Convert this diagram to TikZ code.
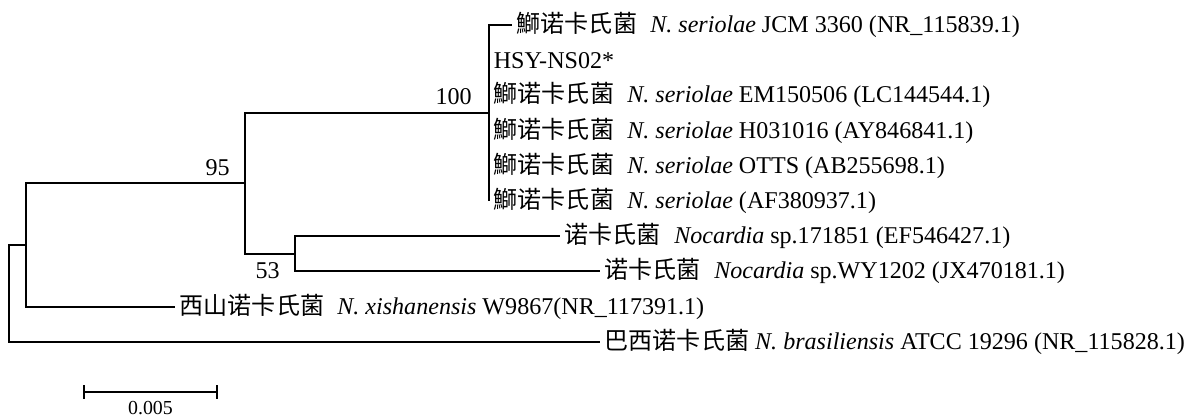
\documentclass[tikz,border=0pt]{standalone}
\usepackage{fontspec}
\setmainfont{Liberation Serif}
\newfontfamily\cjk{Noto Sans CJK SC}
\usetikzlibrary{calc,arrows.meta}
\newcommand\cn[1]{{\cjk #1}}
\newcommand\gapsp{\hspace{0.55em}}

\begin{document}
\begin{tikzpicture}[x=0.02cm,y=-0.02cm,
    branch/.style={line width=1.1pt},
    taxon/.style={anchor=west,inner sep=2.5pt},
    boot/.style={anchor=east,inner sep=0pt},
    font=\fontsize{13.7}{16}\selectfont]
  \useasboundingbox (0,0) rectangle (1190,417);
  % inner nodes
  \coordinate (root) at (9,293.4);
  \coordinate (nA) at (26,245);
  \coordinate (n95) at (245,183.4);
  \coordinate (n100) at (489,113);
  \coordinate (n53) at (295,253.8);
  % taxa
  \node[taxon] (jcm) at (512,25) {\cn{鰤诺卡氏菌}\gapsp\textit{N. seriolae} JCM 3360 (NR\_115839.1)};
  \node[taxon] (hsy) at (489,60.2) {HSY-NS02*};
  \node[taxon] (em) at (489,95.4) {\cn{鰤诺卡氏菌}\gapsp\textit{N. seriolae} EM150506 (LC144544.1)};
  \node[taxon] (h03) at (489,130.6) {\cn{鰤诺卡氏菌}\gapsp\textit{N. seriolae} H031016 (AY846841.1)};
  \node[taxon] (otts) at (489,165.8) {\cn{鰤诺卡氏菌}\gapsp\textit{N. seriolae} OTTS (AB255698.1)};
  \node[taxon] (af) at (489,201) {\cn{鰤诺卡氏菌}\gapsp\textit{N. seriolae} (AF380937.1)};
  \node[taxon] (sp171) at (560,236.2) {\cn{诺卡氏菌}\gapsp\textit{Nocardia} sp.171851 (EF546427.1)};
  \node[taxon] (wy) at (600,271.4) {\cn{诺卡氏菌}\gapsp\textit{Nocardia} sp.WY1202 (JX470181.1)};
  \node[taxon] (xish) at (175,306.6) {\cn{西山诺卡氏菌}\gapsp\textit{N. xishanensis} W9867(NR\_117391.1)};
  \node[taxon] (bras) at (600,341.8) {\cn{巴西诺卡氏菌} \textit{N. brasiliensis} ATCC 19296 (NR\_115828.1)};
  % branches
  \draw[branch] (root) |- (nA);
  \draw[branch] (root) |- (bras.west);
  \draw[branch] (nA) |- (n95);
  \draw[branch] (nA) |- (xish.west);
  \draw[branch] (n95) |- (n100);
  \draw[branch] (n95) |- (n53);
  \draw[branch] (n53) |- (sp171.west);
  \draw[branch] (n53) |- (wy.west);
  \foreach \t in {jcm,hsy,em,h03,otts,af}
    \draw[branch] (n100) |- (\t.west);
  % bootstrap values
  \node[boot] (b100) at ([shift={(-17,-16)}]n100) {100};
  \node[boot] (b95) at ([shift={(-15,-16)}]n95) {95};
  \node[boot] (b53) at ([shift={(-15,17)}]n53) {53};
  % scale bar
  \coordinate (sbL) at (83,392);
  \coordinate (sbR) at (218,392);
  \draw[branch,{Bar[width=7.5pt]}-{Bar[width=7.5pt]}] (sbL) -- (sbR);
  \node[inner sep=0pt,font=\fontsize{11.3}{13}\selectfont] (sblab) at ($(sbL)!0.5!(sbR)+(0,16)$) {0.005};
\end{tikzpicture}
\end{document}
